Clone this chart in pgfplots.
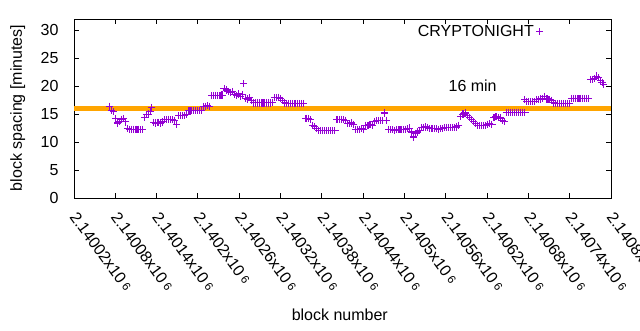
\documentclass[border=0pt]{standalone}
\usepackage{fontspec}
\setmainfont{Liberation Sans}
\usepackage{pgfplots}
\pgfplotsset{compat=1.18}
\definecolor{gpurple}{HTML}{9400D3}
\definecolor{gorange}{HTML}{FFA500}
\makeatletter
\def\pgfsys@marker@declare#1#2{\gdef#1{#2}}
\def\pgfsys@marker@use#1{#1}
\pgfdeclareplotmark{gplus}{%
  \pgfsetcolor{gpurple}%
  \pgfsetlinewidth{1.1pt}%
  \pgfpathmoveto{\pgfqpoint{\pgfplotmarksize}{0pt}}%
  \pgfpathlineto{\pgfqpoint{-\pgfplotmarksize}{0pt}}%
  \pgfpathmoveto{\pgfqpoint{0pt}{\pgfplotmarksize}}%
  \pgfpathlineto{\pgfqpoint{0pt}{-\pgfplotmarksize}}%
  \pgfusepathqstroke}
\makeatother
\newcommand{\lab}[1]{#1x10\hspace{0.22em}\raisebox{0.08em}{\fontsize{11.5}{12}\selectfont 6}}
\begin{document}
\begin{tikzpicture}
\begin{axis}[
  at={(74pt,132pt)}, anchor=south west,
  width=537pt, height=179pt, scale only axis,
  xmin=20, xmax=800, ymin=0, ymax=32,
  xtick={20,80,...,800},
  xticklabels={\lab{2.14002},\lab{2.14008},\lab{2.14014},\lab{2.1402},\lab{2.14026},\lab{2.14032},\lab{2.14038},\lab{2.14044},\lab{2.1405},\lab{2.14056},\lab{2.14062},\lab{2.14068},\lab{2.14074},\lab{2.1408}},
  ytick={0,5,...,30},
  tick pos=both, tick align=inside, major tick length=5pt,
  /pgf/number format/assume math mode=true,
  tick label style={font=\fontsize{16}{19}\selectfont},
  xticklabel style={anchor=base west, inner sep=0pt, xshift=-5pt, yshift=-19pt, rotate=-54},
  yticklabel style={xshift=-12pt},
  axis line style={black, line width=0.9pt},
  every tick/.style={black, line width=0.9pt},
  label style={font=\fontsize{16}{19}\selectfont},
  xlabel={block number},
  xlabel style={at={(axis description cs:0.495,-0.654)}, anchor=center},
  ylabel={block spacing [minutes]},
  ylabel style={at={(axis description cs:-0.105,0.503)}, anchor=center},
  legend style={draw=none, fill=none, font=\fontsize{16}{19}\selectfont,
    at={(axis cs:512,31.6)}, anchor=north west, legend cell align=right},
  legend plot pos=right,
]
\addplot[only marks, mark=gplus, mark size=3.6pt, gpurple, mark options={gpurple}] coordinates {
(72,16.4) (74,15.6) (77,15.4) (80,14.2) (83,13.4) (86,13.7) (89,14.1) (92,14.2) (95,13.6)
(98,12.4) (101,12.3) (104,12.3) (107,12.3) (110,12.3) (113,12.3) (116,12.2) (119,12.3)
(122,14.4) (125,14.9) (128,15.0) (131,15.4) (133,16.2)
(136,13.5) (139,13.4) (142,13.5) (145,13.4) (148,13.6)
(151,14.0) (154,14.0) (157,14.1) (160,14.0) (163,14.0) (166,13.9) (169,13.1)
(172,14.7) (175,14.8) (178,14.8) (181,14.8) (184,14.9)
(187,15.6) (190,15.7) (193,15.7) (196,15.7) (199,15.6) (202,15.7) (205,15.7)
(208,16.4) (211,16.4) (214,16.5) (217,16.4)
(220,18.3) (223,18.3) (226,18.3) (229,18.3) (232,18.3) (235,18.4)
(238,19.6) (241,19.3) (244,19.0) (247,18.9) (250,19.0)
(253,18.5) (256,18.3) (259,18.6) (262,18.2) (265,18.5) (266,20.4)
(269,17.8) (272,17.7) (275,17.9) (278,17.5)
(281,17.0) (284,17.0) (287,17.0) (290,17.0) (293,17.0) (296,17.0) (299,17.0) (302,17.0) (305,17.0) (308,17.1)
(311,17.9) (314,17.9) (317,18.0) (320,17.8) (323,17.5)
(326,17.0) (329,16.9) (332,16.9) (335,16.9) (338,16.9) (341,16.9) (344,16.9) (347,16.9) (350,16.9) (353,16.9)
(357,14.2) (360,14.2) (363,14.0) (366,13.0) (369,12.8) (372,12.4)
(375,12.1) (378,12.0) (381,12.0) (384,12.0) (387,12.0) (390,12.0) (393,12.0) (396,12.0) (399,12.0)
(402,14.0) (405,14.0) (408,14.1) (411,14.0) (414,13.9)
(417,13.3) (420,13.3) (423,13.4) (426,13.2)
(429,12.3) (432,12.3) (435,12.2) (438,12.4) (441,12.3)
(444,13.0) (447,13.0) (450,13.1) (453,13.0)
(456,13.7) (459,13.8) (462,13.8) (465,13.9) (468,13.8) (471,15.2) (474,13.9)
(477,12.2) (480,12.2) (483,12.2) (486,12.1) (489,12.2) (492,12.2) (495,12.2) (498,12.2) (501,12.3) (504,12.4) (507,12.5)
(510,11.8) (513,10.9) (516,11.6) (519,11.8) (522,12.1)
(525,12.6) (528,12.6) (531,12.7) (534,12.6)
(537,12.4) (540,12.4) (543,12.4) (546,12.4) (549,12.3) (552,12.4) (555,12.4)
(558,12.6) (561,12.6) (564,12.6) (567,12.6) (570,12.6) (573,12.6) (576,12.7) (579,13.0)
(582,14.6) (585,15.0) (588,15.2) (591,14.7) (594,14.4) (597,14.0) (600,13.7) (603,13.3)
(606,13.0) (609,12.9) (612,12.9) (615,12.9) (618,12.9) (621,13.2) (624,13.3) (627,13.2)
(630,14.4) (633,14.5) (636,14.4) (639,14.3) (642,13.8) (645,13.7)
(648,15.3) (651,15.3) (654,15.3) (657,15.3) (660,15.3) (663,15.3) (666,15.3) (669,15.3) (672,15.3) (675,15.3)
(674,17.6) (677,17.3) (680,17.2) (683,17.2) (686,17.2) (689,17.2)
(692,17.6) (695,17.6) (698,17.7) (701,17.8) (704,18.2) (707,17.7) (710,17.6) (713,17.5)
(716,17.0) (719,16.9) (722,16.9) (725,16.9) (728,16.9) (731,16.9) (734,16.9) (737,16.9) (740,16.9)
(743,17.8) (746,17.8) (749,17.8) (752,17.8) (755,17.8) (758,17.8) (761,17.8) (764,17.8) (767,17.8)
(770,21.2) (773,21.2) (776,21.3) (779,21.8) (782,21.5) (785,21.0) (787,20.6) (789,20.3)
};
\addlegendentry{CRYPTONIGHT\hspace{26pt}}
\addplot[gorange, line width=4.3pt, forget plot] coordinates {(20,16) (800,16)};
\node[font=\fontsize{16}{19}\selectfont, anchor=center] at (axis cs:599,20) {16 min};
\end{axis}
\pgfresetboundingbox
\useasboundingbox (0pt,0pt) rectangle (640pt,330pt);
\end{tikzpicture}
\end{document}
